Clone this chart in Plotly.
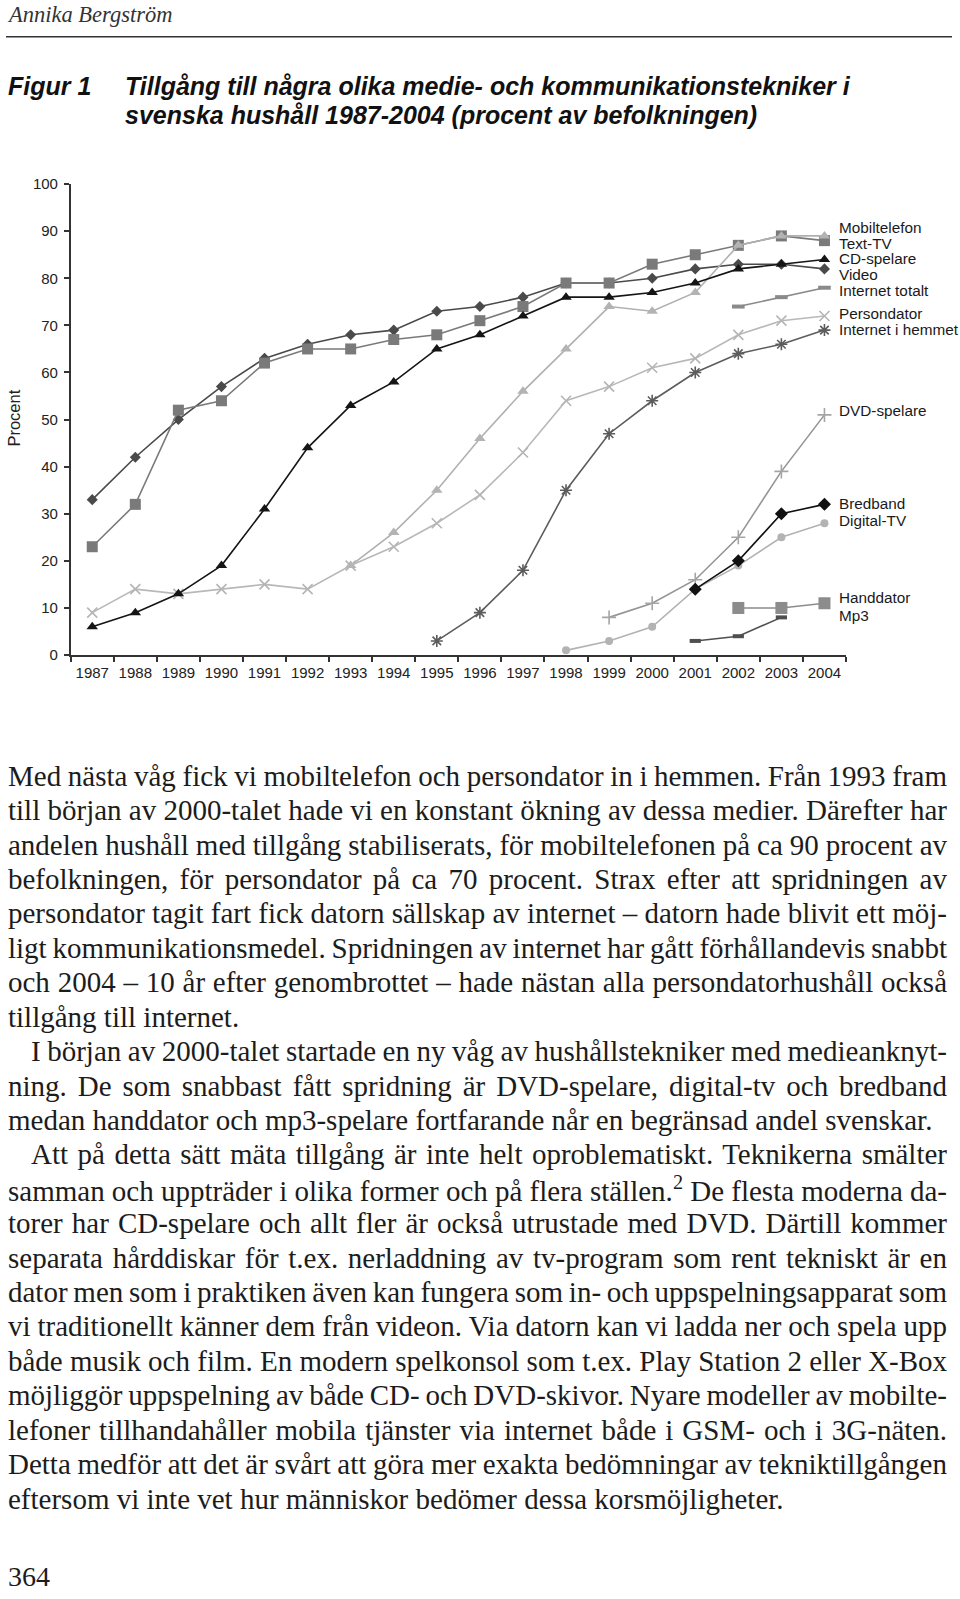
import json
import plotly.graph_objects as go

W, H = 960, 1599

years = [str(y) for y in range(1987, 2005)]
N = None
video = [33, 42, 50, 57, 63, 66, 68, 69, 73, 74, 76, 79, 79, 80, 82, 83, 83, 82]
text_tv = [23, 32, 52, 54, 62, 65, 65, 67, 68, 71, 74, 79, 79, 83, 85, 87, 89, 88]
cd_spelare = [6, 9, 13, 19, 31, 44, 53, 58, 65, 68, 72, 76, 76, 77, 79, 82, 83, 84]
mobiltelefon = [N, N, N, N, N, N, 19, 26, 35, 46, 56, 65, 74, 73, 77, 87, 89, 89]
persondator = [9, 14, 13, 14, 15, 14, 19, 23, 28, 34, 43, 54, 57, 61, 63, 68, 71, 72]
internet_hemmet = [N, N, N, N, N, N, N, N, 3, 9, 18, 35, 47, 54, 60, 64, 66, 69]
internet_totalt = [N, N, N, N, N, N, N, N, N, N, N, N, N, N, N, 74, 76, 78]
dvd_spelare = [N, N, N, N, N, N, N, N, N, N, N, N, 8, 11, 16, 25, 39, 51]
bredband = [N, N, N, N, N, N, N, N, N, N, N, N, N, N, 14, 20, 30, 32]
digital_tv = [N, N, N, N, N, N, N, N, N, N, N, 1, 3, 6, 14, 19, 25, 28]
handdator = [N, N, N, N, N, N, N, N, N, N, N, N, N, N, N, 10, 10, 11]
mp3 = [N, N, N, N, N, N, N, N, N, N, N, N, N, N, 3, 4, 8, N]

y_ticks = list(range(0, 101, 10))

body_lines = [
    "Med nästa våg fick vi mobiltelefon och persondator in i hemmen. Från 1993 fram",
    "till början av 2000-talet hade vi en konstant ökning av dessa medier. Därefter har",
    "andelen hushåll med tillgång stabiliserats, för mobiltelefonen på ca 90 procent av",
    "befolkningen, för persondator på ca 70 procent. Strax efter att spridningen av",
    "persondator tagit fart fick datorn sällskap av internet – datorn hade blivit ett möj-",
    "ligt kommunikationsmedel. Spridningen av internet har gått förhållandevis snabbt",
    "och 2004 – 10 år efter genombrottet – hade nästan alla persondatorhushåll också",
    "tillgång till internet.",
    "I början av 2000-talet startade en ny våg av hushållstekniker med medieanknyt-",
    "ning. De som snabbast fått spridning är DVD-spelare, digital-tv och bredband",
    "medan handdator och mp3-spelare fortfarande når en begränsad andel svenskar.",
    "Att på detta sätt mäta tillgång är inte helt oproblematiskt. Teknikerna smälter",
    "samman och uppträder i olika former och på flera ställen.<sup>2</sup> De flesta moderna da-",
    "torer har CD-spelare och allt fler är också utrustade med DVD. Därtill kommer",
    "separata hårddiskar för t.ex. nerladdning av tv-program som rent tekniskt är en",
    "dator men som i praktiken även kan fungera som in- och uppspelningsapparat som",
    "vi traditionellt känner dem från videon. Via datorn kan vi ladda ner och spela upp",
    "både musik och film. En modern spelkonsol som t.ex. Play Station 2 eller X-Box",
    "möjliggör uppspelning av både CD- och DVD-skivor. Nyare modeller av mobilte-",
    "lefoner tillhandahåller mobila tjänster via internet både i GSM- och i 3G-näten.",
    "Detta medför att det är svårt att göra mer exakta bedömningar av tekniktillgången",
    "eftersom vi inte vet hur människor bedömer dessa korsmöjligheter.",
]
indented = {8, 11}
not_justified = {7, 10, 21}

# end-of-line series labels (text, level on the y axis)
end_labels = [
    ("Mobiltelefon", 90.8), ("Text-TV", 87.3), ("CD-spelare", 84.1), ("Video", 80.9),
    ("Internet totalt", 77.5), ("Persondator", 72.5), ("Internet i hemmet", 69.1),
    ("DVD-spelare", 51.9), ("Bredband", 32.2), ("Digital-TV", 28.6), ("Handdator", 12.3), ("Mp3", 8.5),
]


def px(x):
    return x / W


def py(y):
    return 1 - y / H


fig = go.Figure()

series = [
    ("Video", video, dict(symbol="diamond", size=8.5, color="#4a4a4a"), "#4a4a4a"),
    ("Text-TV", text_tv, dict(symbol="square", size=11, color="#7a7a7a"), "#7a7a7a"),
    ("Mobiltelefon", mobiltelefon, dict(symbol="triangle-up", size=10, color="#b3b3b3"), "#b0b0b0"),
    ("Persondator", persondator, dict(symbol="x-thin-open", size=10, color="#b5b5b5", line=dict(width=1.6, color="#b5b5b5")), "#b8b8b8"),
    ("CD-spelare", cd_spelare, dict(symbol="triangle-up", size=10, color="#151515"), "#151515"),
    ("Internet i hemmet", internet_hemmet, dict(symbol="asterisk-open", size=10, color="#5c5c5c", line=dict(width=1.6, color="#5c5c5c")), "#5c5c5c"),
    ("Internet totalt", internet_totalt, dict(symbol="line-ew-open", size=9, color="#8a8a8a", line=dict(width=4, color="#8a8a8a")), "#8a8a8a"),
    ("DVD-spelare", dvd_spelare, dict(symbol="cross-thin-open", size=10, color="#a5a5a5", line=dict(width=1.6, color="#a5a5a5")), "#959595"),
    ("Digital-TV", digital_tv, dict(symbol="circle", size=8, color="#b3b3b3"), "#b3b3b3"),
    ("Bredband", bredband, dict(symbol="diamond", size=10, color="#111111"), "#111111"),
    ("Handdator", handdator, dict(symbol="square", size=12, color="#8c8c8c"), "#8c8c8c"),
    ("Mp3", mp3, dict(symbol="line-ew-open", size=8, color="#4f4f4f", line=dict(width=4, color="#4f4f4f")), "#4f4f4f"),
]
for name, vals, mk, lc in series:
    fig.add_trace(go.Scatter(
        x=years, y=vals, name=name, mode="lines+markers",
        line=dict(color=lc, width=1.6), marker=mk, connectgaps=False,
        showlegend=False, cliponaxis=False,
    ))

chart_font = dict(family="Liberation Sans, Arial, sans-serif", size=15, color="#222")

fig.update_layout(
    width=W, height=H,
    margin=dict(l=0, r=0, t=0, b=0),
    paper_bgcolor="white", plot_bgcolor="white",
    font=chart_font,
    xaxis=dict(
        type="category", domain=[px(70.7), px(846)], range=[-0.5, 17.5],
        showline=True, linecolor="#333", linewidth=1.5, showgrid=False,
        ticks="outside", tickson="boundaries", ticklen=5, tickcolor="#333", tickwidth=1.5,
        tickfont=chart_font, ticklabelstandoff=3, zeroline=False,
    ),
    yaxis=dict(
        domain=[1 - 653 / H, 1 - 177 / H], range=[0, 100],
        tickvals=y_ticks, showline=True, linecolor="#333", linewidth=1.5, showgrid=False,
        ticks="outside", ticklen=5, tickcolor="#333", tickwidth=1.5,
        tickfont=chart_font, ticklabelstandoff=3, zeroline=False,
    ),
)

ann = []
# header
ann.append(dict(x=px(5), y=py(6), xref="paper", yref="paper", xanchor="left", yanchor="middle",
                text="<i>Annika Bergström</i>", showarrow=False,
                font=dict(family="Liberation Serif, serif", size=22.5, color="#333")))
# title
tfont = dict(family="Liberation Sans, Arial, sans-serif", size=25, color="#111")
ann.append(dict(x=px(6), y=py(77.5), xref="paper", yref="paper", xanchor="left", yanchor="middle",
                text="<b><i>Figur 1</i></b>", showarrow=False, font=tfont))
ann.append(dict(x=px(123), y=py(77.5), xref="paper", yref="paper", xanchor="left", yanchor="middle",
                text="<b><i>Tillgång till några olika medie- och kommunikationstekniker i</i></b>",
                showarrow=False, font=tfont))
ann.append(dict(x=px(123), y=py(107), xref="paper", yref="paper", xanchor="left", yanchor="middle",
                text="<b><i>svenska hushåll 1987-2004 (procent av befolkningen)</i></b>",
                showarrow=False, font=tfont))
# y axis title
ann.append(dict(x=px(14), y=py(414), xref="paper", yref="paper", xanchor="center", yanchor="middle",
                text="Procent", textangle=-90, showarrow=False,
                font=dict(family="Liberation Sans, Arial, sans-serif", size=16.5, color="#222")))
# series labels at line ends
for t, lvl in end_labels:
    ann.append(dict(x=px(837), y=lvl, xref="paper", yref="y", xanchor="left", yanchor="middle",
                    text=t, showarrow=False,
                    font=dict(family="Liberation Sans, Arial, sans-serif", size=15.3, color="#1a1a1a")))

# body text
targets = {}
bfont = dict(family="Liberation Serif, serif", size=29, color="#1c1c1c")
for i, line in enumerate(body_lines):
    x0 = 29 if i in indented else 6
    yc = 775 + i * 34.79
    if i not in not_justified:
        targets[str(len(ann))] = 947 - x0 - 2
    ann.append(dict(x=px(x0), y=py(yc), xref="paper", yref="paper", xanchor="left", yanchor="middle",
                    align="left", text=line, showarrow=False, font=bfont))
# page number
ann.append(dict(x=px(6), y=py(1584), xref="paper", yref="paper", xanchor="left", yanchor="middle",
                text="364", showarrow=False, font=dict(family="Liberation Serif, serif", size=28, color="#1c1c1c")))

fig.update_layout(annotations=ann)
fig.add_shape(type="line", xref="paper", yref="paper", x0=px(6), x1=px(952), y0=py(28), y1=py(28),
              line=dict(color="#333", width=1.5))

post = """
(function(){
  var T = __TARGETS__;
  function just(){
    document.querySelectorAll('g.annotation').forEach(function(g){
      var i = g.getAttribute('data-index');
      if(!(i in T)) return;
      var t = g.querySelector('text.annotation-text');
      if(!t) return;
      t.style.wordSpacing = '0px';
      var s = t.textContent;
      var n = (s.match(/ /g) || []).length;
      if(!n) return;
      var w = t.getComputedTextLength();
      t.style.wordSpacing = ((T[i] - w) / n) + 'px';
    });
  }
  just();
  setTimeout(just, 50);
})();
""".replace("__TARGETS__", json.dumps(targets))

fig.write_html("out.html", post_script=post)
